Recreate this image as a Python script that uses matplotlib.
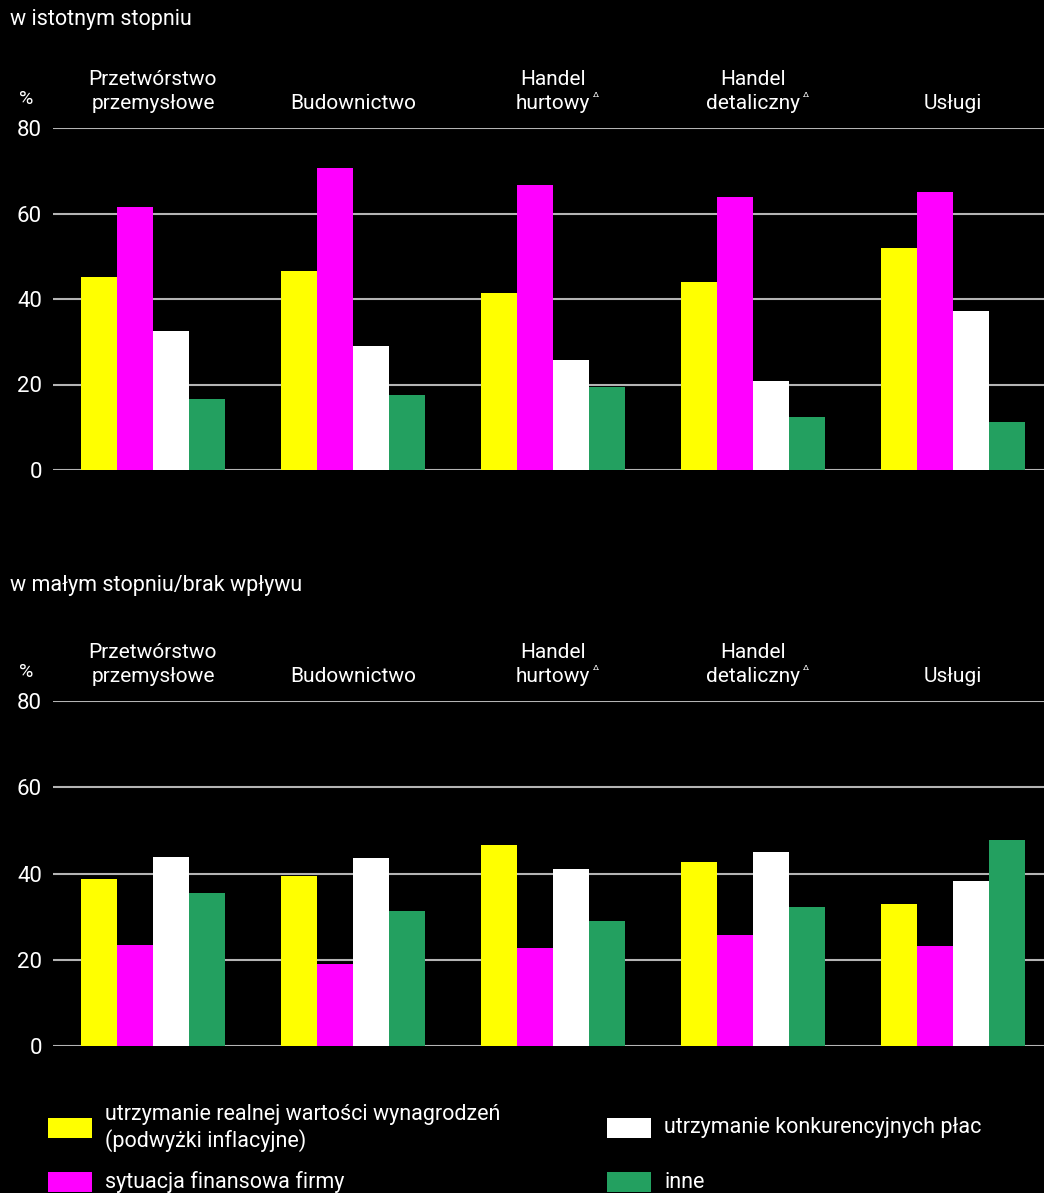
import numpy as np
import matplotlib
matplotlib.use('Agg')
import matplotlib.pyplot as plt
from matplotlib.patches import Rectangle

plt.rcParams['font.family'] = ['Roboto', 'DejaVu Sans']

categories = ['Przetwórstwo\nprzemysłowe', 'Budownictwo', 'Handel\nhurtowy', 'Handel\ndetaliczny', 'Usługi']
flagged = [False, False, True, True, False]
series_names = ['utrzymanie realnej wartości wynagrodzeń\n(podwyżki inflacyjne)',
                'sytuacja finansowa firmy',
                'utrzymanie konkurencyjnych płac',
                'inne']
colors = ['#ffff00', '#ff00ff', '#ffffff', '#23a060']

# w istotnym stopniu
high_wages = [45.2, 46.6, 41.3, 44.0, 52.0]
high_finance = [61.6, 70.6, 66.6, 63.8, 65.1]
high_compet = [32.5, 29.0, 25.8, 20.9, 37.3]
high_other = [16.6, 17.6, 19.5, 12.3, 11.3]

# w małym stopniu/brak wpływu
low_wages = [38.7, 39.4, 46.7, 42.6, 33.0]
low_finance = [23.4, 19.0, 22.7, 25.7, 23.3]
low_compet = [43.9, 43.7, 41.1, 45.1, 38.3]
low_other = [35.4, 31.4, 28.9, 32.3, 47.8]

yticks = [0, 20, 40, 60, 80]

fig = plt.figure(figsize=(10.44, 11.93), dpi=100, facecolor='black')

W = 1044.0
H = 1193.0


def panel(top_px, bottom_px, title, title_y, data):
    ax = fig.add_axes([53 / W, 1 - bottom_px / H, 1 - 53 / W, (bottom_px - top_px) / H])
    ax.set_facecolor('black')
    x = np.arange(len(categories))
    bw = 0.181
    for i, vals in enumerate(data):
        ax.bar(x + (i - 1.5) * bw, vals, bw, color=colors[i], zorder=3, linewidth=0)
    ax.set_xlim(-0.5, -0.5 + (W - 53) / 200.0)
    ax.set_ylim(0, 80)
    ax.set_yticks(yticks)
    ax.set_xticks([])
    ax.grid(axis='y', color='#b4b4b4', linewidth=1.5, zorder=0)
    for s in ax.spines.values():
        s.set_visible(False)
    ax.tick_params(axis='y', length=0, pad=8, labelsize=16, labelcolor='white')
    for i, c in enumerate(categories):
        t = ax.annotate(c, xy=(x[i], 80), xycoords='data', xytext=(0, 11),
                        textcoords='offset points', ha='center', va='bottom',
                        color='white', fontsize=15, linespacing=1.3)
        if flagged[i]:
            ax.annotate('Δ', xy=(1, 0.42), xycoords=t, xytext=(2, 0),
                        textcoords='offset points', ha='left', va='center',
                        color='white', fontsize=6)
    ax.annotate('%', xy=(0, 80), xycoords=('axes fraction', 'data'), xytext=(-19, 21),
                textcoords='offset points', ha='center', va='center',
                color='white', fontsize=14)
    fig.text(10 / W, 1 - title_y / H, title, color='white', fontsize=15.5,
             ha='left', va='center')
    return ax


panel(128, 470, 'w istotnym stopniu', 19,
      [high_wages, high_finance, high_compet, high_other])
panel(701, 1046, 'w małym stopniu/brak wpływu', 585,
      [low_wages, low_finance, low_compet, low_other])

# legend
leg_pos = [(48, 1128), (48, 1182), (607, 1128), (607, 1182)]
for (px, py), name, col in zip(leg_pos, series_names, colors):
    fig.patches.append(Rectangle((px / W, 1 - (py + 10) / H), 44 / W, 20 / H,
                                 transform=fig.transFigure, facecolor=col,
                                 edgecolor='none'))
    fig.text((px + 57) / W, 1 - py / H, name, color='white', fontsize=15.5,
             ha='left', va='center', linespacing=1.25)

fig.savefig('out.png', dpi=100, facecolor='black')
